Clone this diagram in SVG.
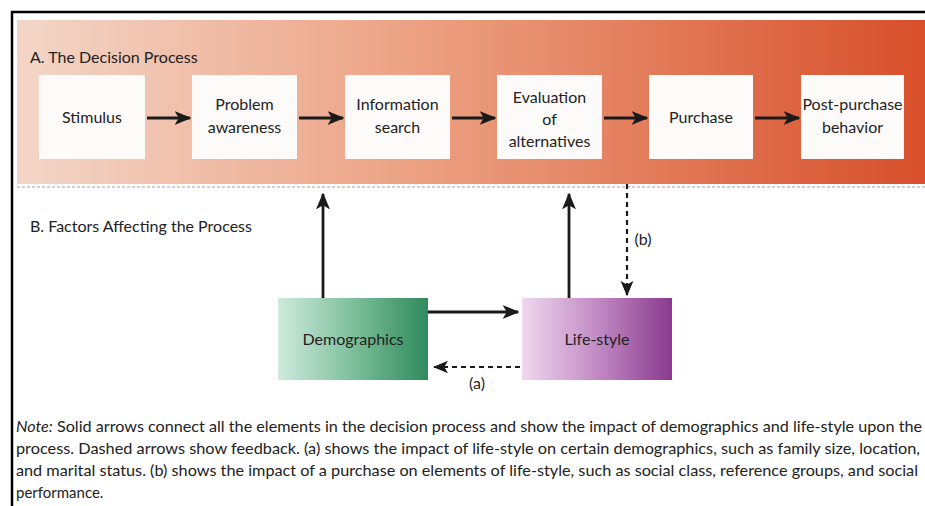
<svg xmlns="http://www.w3.org/2000/svg" width="925" height="506" viewBox="0 0 925 506">
<defs>
<linearGradient id="band" x1="0" y1="0" x2="1" y2="0">
<stop offset="0" stop-color="#f3d6c8"/>
<stop offset="0.45" stop-color="#eca081"/>
<stop offset="1" stop-color="#d74f2a"/>
</linearGradient>
<linearGradient id="green" x1="0" y1="0" x2="1" y2="0">
<stop offset="0" stop-color="#cfeadc"/>
<stop offset="0.5" stop-color="#7dbf9c"/>
<stop offset="1" stop-color="#2f8a5c"/>
</linearGradient>
<linearGradient id="purple" x1="0" y1="0" x2="1" y2="0">
<stop offset="0" stop-color="#efd8ef"/>
<stop offset="0.5" stop-color="#c28ac4"/>
<stop offset="1" stop-color="#8a3a8e"/>
</linearGradient>
<marker id="ah" viewBox="0 0 12 10" refX="11" refY="5" markerWidth="6" markerHeight="5.5" orient="auto" markerUnits="strokeWidth">
<path d="M0,0 L12,5 L0,10 L3,5 Z" fill="#1a1a1a"/>
</marker>
<marker id="ahs" viewBox="0 0 12 10" refX="11" refY="5" markerWidth="7" markerHeight="6.5" orient="auto" markerUnits="strokeWidth">
<path d="M0,0 L12,5 L0,10 L3,5 Z" fill="#1a1a1a"/>
</marker>
</defs>
<style>
.lbl{font-family:Lato,"Open Sans","Liberation Sans",sans-serif;font-size:16px;fill:#222;text-anchor:middle}
.hdr{font-family:Lato,"Open Sans","Liberation Sans",sans-serif;font-size:16px;fill:#222}
.note{font-family:Lato,"Open Sans","Liberation Sans",sans-serif;font-size:15px;fill:#222}
.box{fill:#fdfbfa}
.sol{stroke:#1a1a1a;stroke-width:2.8;fill:none;marker-end:url(#ah)}
.dash{stroke:#1a1a1a;stroke-width:2.2;fill:none;stroke-dasharray:5,4;marker-end:url(#ahs)}
</style>
<rect width="925" height="506" fill="#ffffff"/>
<path d="M12,506 L12,12 L925,12" fill="none" stroke="#000" stroke-width="2.5"/>
<rect x="17" y="20" width="908" height="164" fill="url(#band)"/>
<line x1="17" y1="187" x2="925" y2="187" stroke="#d0d0d4" stroke-width="2" stroke-dasharray="3,2"/>
<text class="hdr" x="30" y="63">A. The Decision Process</text>
<text class="hdr" x="30" y="232">B. Factors Affecting the Process</text>

<g id="stimulus"><rect class="box" x="39" y="75" width="106" height="84"/><text class="lbl" x="92" y="123">Stimulus</text></g>
<g id="problem"><rect class="box" x="192" y="75" width="105" height="84"/><text class="lbl" x="244.5" y="110">Problem</text><text class="lbl" x="244.5" y="133">awareness</text></g>
<g id="info"><rect class="box" x="345" y="75" width="105" height="84"/><text class="lbl" x="397.5" y="110">Information</text><text class="lbl" x="397.5" y="133">search</text></g>
<g id="eval"><rect class="box" x="497" y="75" width="105" height="84"/><text class="lbl" x="549.5" y="103">Evaluation</text><text class="lbl" x="549.5" y="125">of</text><text class="lbl" x="549.5" y="147">alternatives</text></g>
<g id="purchase"><rect class="box" x="649" y="75" width="104" height="84"/><text class="lbl" x="701" y="123">Purchase</text></g>
<g id="post"><rect class="box" x="801" y="75" width="103" height="84"/><text class="lbl" x="852.5" y="110">Post-purchase</text><text class="lbl" x="852.5" y="133">behavior</text></g>

<g id="demographics"><rect x="278" y="298" width="150" height="82" fill="url(#green)"/><text class="lbl" x="353" y="345">Demographics</text></g>
<g id="lifestyle"><rect x="522" y="298" width="150" height="82" fill="url(#purple)"/><text class="lbl" x="597" y="345">Life-style</text></g>

<g id="connectors">
<line class="sol" x1="147" y1="118" x2="190" y2="118"/>
<line class="sol" x1="299" y1="118" x2="343" y2="118"/>
<line class="sol" x1="452" y1="118" x2="495" y2="118"/>
<line class="sol" x1="604" y1="118" x2="647" y2="118"/>
<line class="sol" x1="755" y1="118" x2="799" y2="118"/>
<line class="sol" x1="323" y1="298" x2="323" y2="194"/>
<line class="sol" x1="569" y1="298" x2="569" y2="194"/>
<line class="sol" x1="428" y1="312" x2="518" y2="312"/>
<line class="dash" x1="627" y1="184" x2="627" y2="295"/>
<line class="dash" x1="520" y1="367" x2="434" y2="367"/>
<text class="lbl" x="643" y="245">(b)</text>
<text class="lbl" x="477" y="389">(a)</text>
</g>

<text class="note" x="16" y="432" textLength="906" lengthAdjust="spacingAndGlyphs"><tspan font-style="italic">Note:</tspan> Solid arrows connect all the elements in the decision process and show the impact of demographics and life-style upon the</text>
<text class="note" x="16" y="454" textLength="904" lengthAdjust="spacingAndGlyphs">process. Dashed arrows show feedback. (a) shows the impact of life-style on certain demographics, such as family size, location,</text>
<text class="note" x="16" y="476" textLength="902" lengthAdjust="spacingAndGlyphs">and marital status. (b) shows the impact of a purchase on elements of life-style, such as social class, reference groups, and social</text>
<text class="note" x="16" y="498">performance.</text>
</svg>
